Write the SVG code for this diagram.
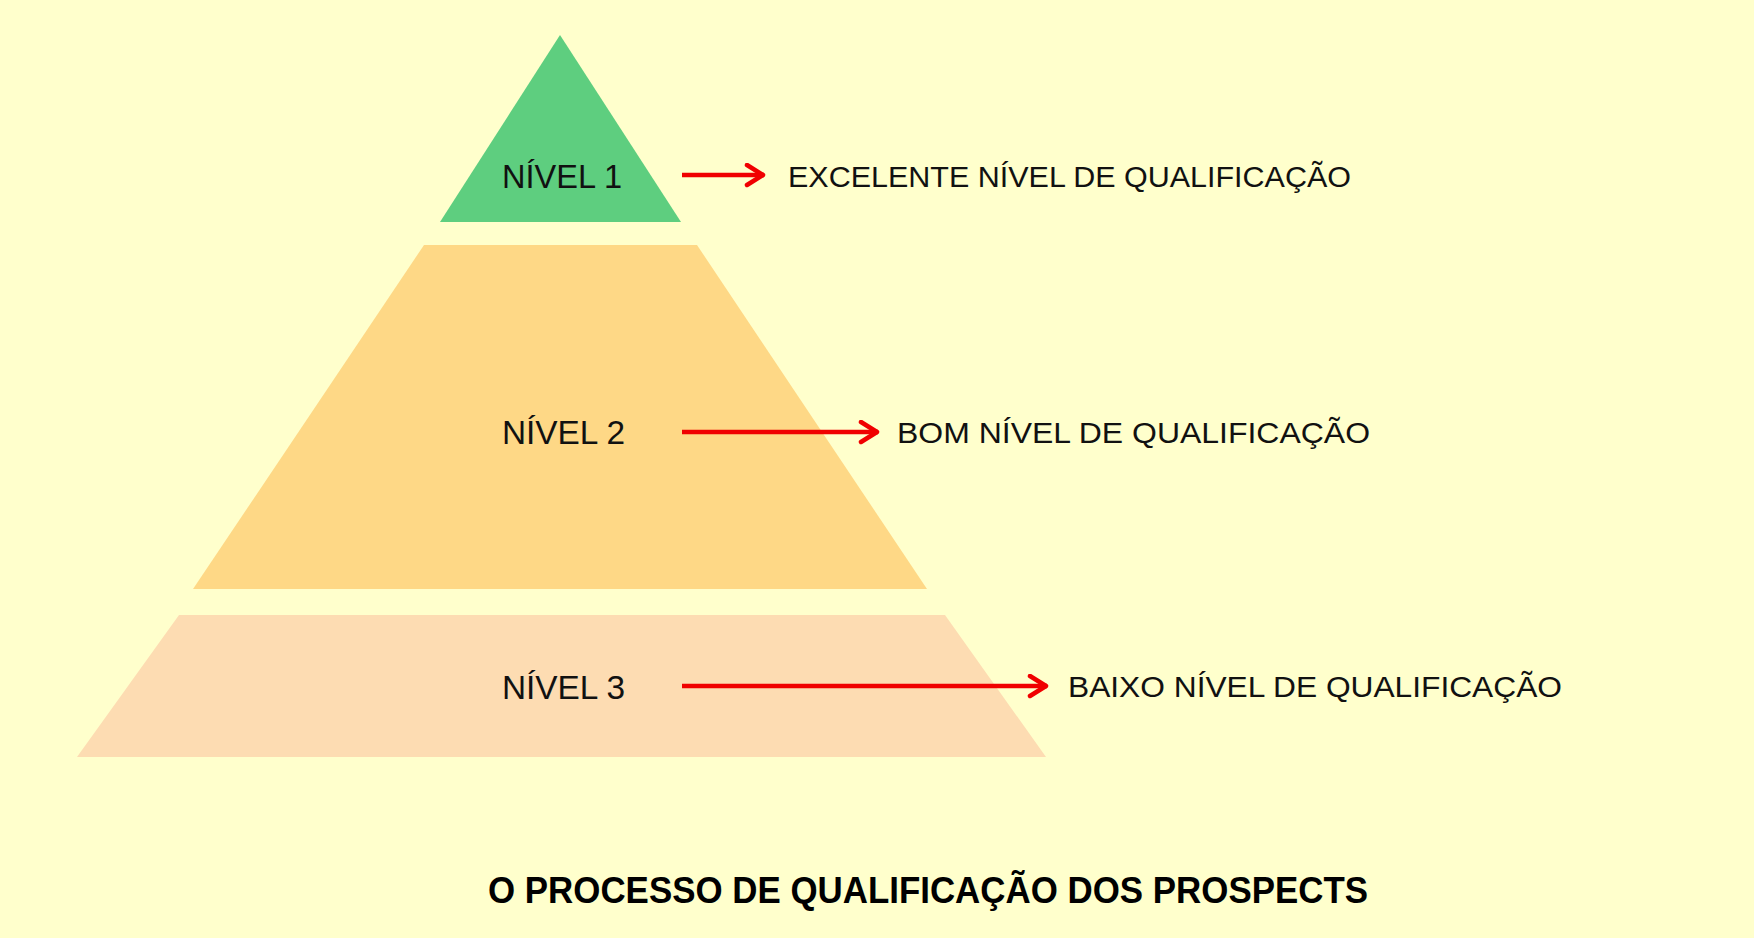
<svg xmlns="http://www.w3.org/2000/svg" width="1754" height="938" viewBox="0 0 1754 938">
  <style>
    .lvl { font-family: "Liberation Sans", Arial, sans-serif; font-size: 34px; fill: #111; }
    .lbl { font-family: "Liberation Sans", Arial, sans-serif; font-size: 29.5px; fill: #111; }
    .title { font-family: "Liberation Sans", Arial, sans-serif; font-size: 37px; font-weight: bold; fill: #000; }
    .arrow { stroke: #F00000; stroke-width: 4.5; fill: none; marker-end: url(#head); }
  </style>
  <defs>
    <marker id="head" markerUnits="userSpaceOnUse" markerWidth="30" markerHeight="30" refX="21" refY="12" orient="auto">
      <path d="M4,2 L20,12 L4,22" fill="none" stroke="#F00000" stroke-width="4.5" stroke-linecap="round" stroke-linejoin="round"/>
    </marker>
  </defs>
  <rect x="0" y="0" width="1754" height="938" fill="#FFFFCC"/>

  <g id="level1">
    <polygon points="560,35 440,222 681,222" fill="#5ECE7F"/>
    <text class="lvl" x="502" y="188" textLength="120" lengthAdjust="spacingAndGlyphs">NÍVEL 1</text>
  </g>
  <g id="level2">
    <polygon points="424,245 697,245 927,589 193,589" fill="#FED886"/>
    <text class="lvl" x="502" y="444" textLength="123" lengthAdjust="spacingAndGlyphs">NÍVEL 2</text>
  </g>
  <g id="level3">
    <polygon points="179,615 945,615 1046,757 77,757" fill="#FDDCB2"/>
    <text class="lvl" x="502" y="699" textLength="123" lengthAdjust="spacingAndGlyphs">NÍVEL 3</text>
  </g>

  <g id="label1">
    <text class="lbl" x="788" y="187" textLength="563" lengthAdjust="spacingAndGlyphs">EXCELENTE NÍVEL DE QUALIFICAÇÃO</text>
  </g>
  <g id="label2">
    <text class="lbl" x="897" y="443" textLength="473" lengthAdjust="spacingAndGlyphs">BOM NÍVEL DE QUALIFICAÇÃO</text>
  </g>
  <g id="label3">
    <text class="lbl" x="1068" y="697" textLength="494" lengthAdjust="spacingAndGlyphs">BAIXO NÍVEL DE QUALIFICAÇÃO</text>
  </g>

  <g id="connectors">
    <line class="arrow" x1="682" y1="175" x2="764" y2="175"/>
    <line class="arrow" x1="682" y1="432" x2="878" y2="432"/>
    <line class="arrow" x1="682" y1="686" x2="1047" y2="686"/>
  </g>

  <g id="title">
    <text class="title" x="488" y="903" textLength="880" lengthAdjust="spacingAndGlyphs">O PROCESSO DE QUALIFICAÇÃO DOS PROSPECTS</text>
  </g>
</svg>
